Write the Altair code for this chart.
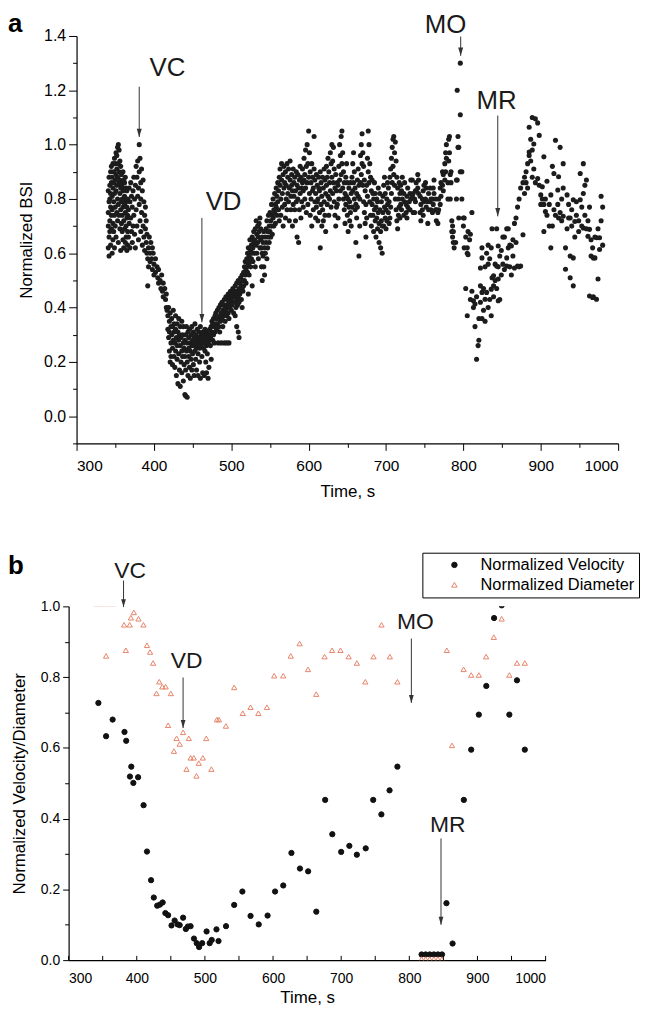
import altair as alt
import pandas as pd

FONT = "Liberation Sans"

# ---------------- Panel a: normalized BSI (time s, values at that time) ----------------
a_seg1 = [
    (341, [0.62, 0.75, 0.83, 0.70]), (342, [0.88, 0.66, 0.79, 0.59]), (343, [0.72, 0.85, 0.80, 0.68]),
    (344, [0.90, 0.77, 0.63, 0.82]), (345, [0.74, 0.86, 0.69, 0.92]), (346, [0.81, 0.60, 0.88, 0.76]),
    (347, [0.93, 0.71, 0.84, 0.65]), (348, [0.79, 0.90, 0.68, 0.86]), (349, [0.95, 0.74, 0.82, 0.62]),
    (350, [0.87, 0.77, 0.93, 0.70]), (351, [0.97, 0.83, 0.66, 0.89]), (352, [0.91, 0.75, 0.85, 0.96]),
    (353, [0.99, 0.80, 0.72, 0.88]), (354, [1.00, 0.93, 0.78, 0.64]), (355, [0.98, 0.86, 0.74, 0.90]),
    (356, [0.94, 0.82, 0.69, 0.87]), (357, [0.92, 0.76, 0.84, 0.61]), (358, [0.89, 0.79, 0.71, 0.85]),
    (359, [0.86, 0.68, 0.80, 0.74]), (360, [0.90, 0.77, 0.65, 0.83]), (361, [0.84, 0.72, 0.87, 0.62]),
    (362, [0.81, 0.69, 0.78, 0.86]), (363, [0.88, 0.75, 0.64, 0.80]), (364, [0.79, 0.70, 0.84, 0.66]),
    (365, [0.83, 0.73, 0.61, 0.77]), (366, [0.80, 0.68, 0.74, 0.63]),
]
a_seg2 = [
    (367, [0.76, 0.66]), (368, [0.84, 0.71]), (369, [0.79, 0.62]), (370, [0.73, 0.86]), (371, [0.68, 0.81]),
    (372, [0.77, 0.64]), (373, [0.70, 0.83]), (374, [0.88, 0.74]), (375, [0.80, 0.67]), (376, [0.85, 0.62]),
    (377, [0.92, 0.76]), (378, [0.88, 0.70]), (379, [0.94, 0.81]), (380, [0.84, 0.65]),
    (381, [1.00, 0.90, 0.78]), (382, [0.95, 0.72]), (383, [0.86, 0.80, 0.68]), (384, [0.91, 0.75]),
    (385, [0.83, 0.63]), (386, [0.87, 0.70]), (387, [0.79, 0.66]), (388, [0.74, 0.61]), (389, [0.69, 0.77]),
    (390, [0.64, 0.72]), (391, [0.60, 0.67]), (392, [0.58, 0.48]),
]
a_seg3 = [
    (393, [0.62, 0.55]), (394, [0.66]), (395, [0.60, 0.57]), (396, [0.64]), (397, [0.58]),
    (398, [0.62, 0.54]), (399, [0.60]), (400, [0.56, 0.52]), (402, [0.58, 0.53]), (404, [0.55]),
    (405, [0.51]), (406, [0.54, 0.49]), (408, [0.50]), (409, [0.47]), (410, [0.52]), (411, [0.46]),
    (412, [0.49, 0.44]), (414, [0.47]), (415, [0.43]), (416, [0.45, 0.40]), (417, [0.39]),
]
a_seg4 = [
    (418, [0.37, 0.32]), (419, [0.40, 0.29]), (420, [0.35, 0.24, 0.31]), (421, [0.38, 0.20]),
    (422, [0.33, 0.27, 0.22]), (423, [0.30, 0.36]), (424, [0.25, 0.19, 0.33]), (425, [0.28, 0.39]),
    (426, [0.22, 0.31, 0.34]), (427, [0.27, 0.18]), (428, [0.32, 0.24, 0.37]), (429, [0.29, 0.15]),
    (430, [0.26, 0.34, 0.21]), (431, [0.31, 0.12]), (432, [0.23, 0.28, 0.36]), (433, [0.17, 0.30]),
    (434, [0.26, 0.11, 0.33]), (435, [0.20, 0.29]), (436, [0.24, 0.35, 0.16]), (437, [0.30, 0.22]),
    (438, [0.27, 0.13, 0.33]), (439, [0.25, 0.19]), (440, [0.08, 0.28, 0.22]), (441, [0.30, 0.17, 0.075]),
    (442, [0.24, 0.33]), (443, [0.27, 0.20, 0.07]), (444, [0.31, 0.15]), (445, [0.25, 0.29, 0.22]),
    (446, [0.18, 0.32]), (447, [0.27, 0.14, 0.24]), (448, [0.30, 0.21]), (449, [0.26, 0.33, 0.17]),
    (450, [0.28, 0.23]), (451, [0.19, 0.31, 0.26]), (452, [0.29, 0.15]), (453, [0.24, 0.34, 0.27]),
    (454, [0.21, 0.30]), (455, [0.28, 0.17, 0.25]), (456, [0.32, 0.26]), (457, [0.23, 0.29, 0.15]),
    (458, [0.27, 0.31]), (459, [0.25, 0.20, 0.29]), (460, [0.28, 0.33, 0.14]), (461, [0.26, 0.30]),
    (462, [0.29, 0.22, 0.27]), (463, [0.31, 0.16]), (464, [0.28, 0.25, 0.30]), (465, [0.27, 0.15]),
    (466, [0.29, 0.32, 0.24]), (467, [0.30, 0.20]), (468, [0.28, 0.16, 0.26]), (469, [0.31, 0.23]),
    (470, [0.29, 0.14, 0.27]),
]
a_seg5 = [
    (471, [0.30, 0.18]), (472, [0.32, 0.28]), (473, [0.29, 0.26]), (474, [0.33, 0.21]), (475, [0.31, 0.35]),
    (476, [0.34, 0.28]), (477, [0.30, 0.36]), (478, [0.33, 0.27]), (479, [0.37, 0.31]), (480, [0.34, 0.38]),
    (481, [0.32, 0.36]), (482, [0.39, 0.34]), (483, [0.36, 0.27]), (484, [0.40, 0.33]), (485, [0.37, 0.31]),
    (486, [0.35, 0.41]), (487, [0.38, 0.27]), (488, [0.42, 0.36]), (489, [0.39, 0.33]), (490, [0.41, 0.37]),
    (491, [0.43, 0.38, 0.27]), (492, [0.40, 0.35]), (493, [0.44, 0.39]), (494, [0.41, 0.37, 0.27]),
    (495, [0.43, 0.40]), (496, [0.45, 0.38]), (497, [0.42, 0.36, 0.27]), (498, [0.44, 0.40]),
    (499, [0.41, 0.46]), (500, [0.43, 0.39]), (501, [0.45, 0.41]), (502, [0.42, 0.47]), (503, [0.44, 0.38]),
    (504, [0.46, 0.42]), (505, [0.48, 0.44, 0.37]), (506, [0.45, 0.40]), (507, [0.49, 0.43, 0.33]),
    (508, [0.46, 0.41]), (509, [0.50, 0.44, 0.31]), (510, [0.47, 0.42, 0.29]), (511, [0.49, 0.45]),
    (512, [0.51, 0.46]), (513, [0.48, 0.43]), (514, [0.52, 0.47, 0.40]), (515, [0.50, 0.46]),
]
a_seg6 = [
    (516, [0.53, 0.48]), (517, [0.55, 0.50]), (518, [0.52, 0.57]), (519, [0.54, 0.49]), (520, [0.58, 0.55]),
    (521, [0.60, 0.53]), (522, [0.56, 0.62, 0.45]), (523, [0.59, 0.52]), (524, [0.65, 0.57]), (525, [0.61, 0.55]),
    (526, [0.63, 0.58]), (527, [0.66, 0.60, 0.48]), (528, [0.62, 0.57]), (529, [0.68, 0.64]), (530, [0.65, 0.60]),
    (531, [0.69, 0.55]), (532, [0.72, 0.63]), (533, [0.67, 0.60]), (534, [0.70, 0.64]), (535, [0.66, 0.58]),
    (536, [0.71, 0.68]), (537, [0.73, 0.62]), (538, [0.69, 0.65]), (539, [0.62, 0.55]), (540, [0.66, 0.60, 0.50]),
    (541, [0.64, 0.59]), (542, [0.68, 0.55]), (543, [0.62, 0.52]), (544, [0.66, 0.60]), (545, [0.64, 0.69]),
    (546, [0.72, 0.58]), (547, [0.68, 0.62]), (548, [0.74, 0.66]), (549, [0.70, 0.64]), (550, [0.75, 0.68]),
    (551, [0.72, 0.66]), (552, [0.78, 0.70]), (553, [0.74, 0.67]), (554, [0.80, 0.73]), (555, [0.76, 0.70]),
    (556, [0.82, 0.75]), (557, [0.78, 0.71]), (558, [0.84, 0.77]), (559, [0.81, 0.74]), (560, [0.86, 0.79]),
]
a_seg7 = [
    (561, [0.83, 0.76]), (562, [0.88, 0.72]), (563, [0.85, 0.91]), (564, [0.80, 0.74]), (565, [0.87, 0.93]),
    (566, [0.82, 0.77]), (567, [0.89, 0.70]), (568, [0.84, 0.92]), (569, [0.78, 0.86]), (570, [0.90, 0.73]),
    (571, [0.85, 0.80]), (572, [0.93, 0.76]), (573, [0.88, 0.82]), (574, [0.79, 0.91]), (575, [0.84, 0.72]),
    (576, [0.87, 0.94]), (577, [0.81, 0.76]), (578, [0.89, 0.85]), (579, [0.83, 0.70]), (580, [0.91, 0.78]),
    (581, [0.86, 0.81]), (582, [0.76, 0.88]), (583, [0.83, 0.72]), (584, [0.90, 0.79]), (585, [0.85, 0.66]),
    (586, [0.80, 0.89]), (587, [0.64, 0.84]), (588, [0.87, 0.76]), (589, [0.82, 0.92]), (590, [0.88, 0.73]),
    (591, [0.84, 0.79]), (592, [0.91, 0.86]), (593, [0.77, 0.83]), (594, [0.95, 0.87]), (595, [0.89, 0.80]),
    (596, [0.98, 0.84]), (597, [0.92, 0.75]), (598, [1.00, 0.86]), (599, [0.93, 0.78]), (600, [1.05, 0.88]),
    (601, [0.97, 0.82]), (602, [0.90, 0.74]), (603, [0.86, 0.80]), (604, [0.93, 0.70]), (605, [0.88, 0.83]),
    (606, [0.84, 0.76]), (607, [1.03, 0.91]), (608, [0.87, 0.79]), (609, [0.82, 0.73]), (610, [0.89, 0.77]),
]
a_seg8 = [
    (611, [0.85, 0.79]), (612, [0.80, 0.72]), (613, [0.88, 0.84]), (614, [0.83, 0.75]), (615, [0.90, 0.62]),
    (616, [0.86, 0.78]), (617, [0.81, 0.70]), (618, [0.76, 0.88]), (619, [0.84, 0.72]), (620, [0.79, 0.91]),
    (621, [0.87, 0.74]), (622, [0.82, 0.68]), (623, [0.92, 0.85]), (624, [0.88, 0.78]), (625, [0.95, 0.81]),
    (626, [0.90, 0.74]), (627, [0.86, 0.80]), (628, [0.97, 0.83]), (629, [0.93, 0.77]), (630, [1.00, 0.88]),
    (631, [0.94, 0.82]), (632, [0.99, 0.86]), (633, [0.91, 0.79]), (634, [0.84, 0.74]), (635, [0.89, 0.70]),
    (636, [0.83, 0.77]), (637, [0.78, 0.86]), (638, [0.85, 0.73]), (639, [0.92, 0.80]), (640, [1.00, 0.87]),
    (641, [0.96, 0.83]), (642, [1.03, 0.89]), (643, [1.05, 0.93]), (644, [0.97, 0.84]), (645, [0.90, 0.80]),
    (646, [0.86, 0.76]), (647, [0.82, 0.71]), (648, [0.88, 0.78]), (649, [0.93, 0.81]), (650, [0.86, 0.74]),
    (651, [0.80, 0.68]), (652, [0.84, 0.77]), (653, [0.79, 0.72]), (654, [0.75, 0.86]), (655, [0.82, 0.70]),
    (656, [0.88, 0.77]), (657, [0.93, 0.83]), (658, [0.97, 0.86]), (659, [0.90, 0.80]), (660, [0.84, 0.76]),
    (661, [0.78, 0.64]), (662, [0.82, 0.73]), (663, [0.87, 0.77]), (664, [0.91, 0.81]), (665, [0.85, 0.59]),
    (666, [0.80, 0.70]), (667, [0.96, 0.86]), (668, [1.00, 0.89]), (669, [1.04, 0.93]), (670, [0.97, 0.85]),
    (671, [0.92, 0.79]), (672, [0.87, 0.75]), (673, [0.83, 0.71]), (674, [0.78, 0.66]), (675, [0.85, 0.73]),
    (676, [0.95, 0.81]), (677, [1.05, 0.90]), (678, [1.00, 0.86]), (679, [0.93, 0.79]), (680, [0.88, 0.74]),
]
a_seg9 = [
    (681, [0.83, 0.70]), (682, [0.78, 0.87]), (683, [0.74, 0.82]), (684, [0.80, 0.68]), (685, [0.86, 0.76]),
    (686, [0.82, 0.72]), (687, [0.77, 0.66]), (688, [0.73, 0.80]), (689, [0.79, 0.69]), (690, [0.84, 0.75]),
    (691, [0.71, 0.64]), (692, [0.76, 0.82]), (693, [0.68, 0.62]), (694, [0.72, 0.79]), (695, [0.60, 0.70]),
    (696, [0.75, 0.81]), (697, [0.70, 0.85]), (698, [0.77, 0.88]), (699, [0.82, 0.73]), (700, [0.76, 0.69]),
    (701, [0.80, 0.72]), (702, [0.86, 0.78]), (703, [0.75, 0.84]), (704, [0.79, 0.71]), (705, [0.73, 0.88]),
    (706, [0.91, 0.77]), (707, [0.95, 0.82]), (708, [0.99, 0.86]), (709, [1.02, 0.92]), (710, [1.03, 0.89]),
    (711, [0.97, 0.85]), (712, [1.01, 0.80]), (713, [0.94, 0.76]), (714, [0.88, 0.72]), (715, [0.84, 0.69]),
    (716, [0.80, 0.74]), (717, [0.86, 0.77]), (718, [0.82, 0.73]), (719, [0.78, 0.85]), (720, [0.83, 0.76]),
]
a_seg10 = [
    (721, [0.88, 0.80]), (723, [0.82, 0.74]), (724, [0.79, 0.86]), (726, [0.78, 0.75]),
    (727, [0.81, 0.73]), (728, [0.77, 0.84]), (730, [0.79, 0.76]), (731, [0.76, 0.82]),
    (732, [0.80, 0.87]), (734, [0.87, 0.81]), (735, [0.82, 0.75]), (737, [0.75, 0.80]),
    (738, [0.79, 0.83]), (739, [0.83, 0.86]), (741, [0.84, 0.89]), (742, [0.87, 0.82]),
    (744, [0.81, 0.75]), (745, [0.78, 0.72]), (747, [0.80, 0.76]), (748, [0.83, 0.74]),
    (749, [0.79, 0.85]), (751, [0.86, 0.80]), (752, [0.84, 0.77]), (754, [0.79, 0.71]),
    (755, [0.76, 0.82]), (757, [0.84, 0.79]), (758, [0.80, 0.76]), (760, [0.75, 0.80]),
    (761, [0.78, 0.84]), (762, [0.82, 0.87]), (764, [0.80, 0.76]), (765, [0.76, 0.72]),
    (767, [0.71, 0.75]), (768, [0.76, 0.80]), (770, [0.84, 0.78]), (771, [0.86, 0.81]),
    (773, [0.85, 0.90]), (774, [0.89, 0.83]), (776, [0.93, 0.87]), (777, [0.97, 0.90]),
    (778, [0.95, 1.00]), (780, [0.86, 0.80]),
]
a_seg11 = [
    (781, [0.94, 1.02]), (782, [1.03, 0.97]), (783, [0.89, 0.80]), (784, [0.90, 0.86]), (785, [0.72, 0.68]),
    (786, [0.70, 0.66]), (787, [0.64, 0.68]), (788, [0.62]), (790, [0.64]), (791, [0.80, 0.87]),
    (792, [0.87, 1.20]), (793, [1.03, 0.99]), (794, [0.99, 0.73]), (796, [1.30, 1.11, 0.90]),
    (798, [0.90, 0.80]), (800, [0.70, 0.73]), (801, [0.62, 0.73]), (803, [0.66, 0.47]),
    (805, [0.62, 0.60, 0.37]), (806, [0.595, 0.68]), (808, [0.65]), (809, [0.67, 0.43]), (811, [0.75, 0.46]),
    (813, [0.425, 0.40]), (815, [0.413, 0.33]), (817, [0.21, 0.44]), (819, [0.26]), (820, [0.28, 0.36]),
    (822, [0.546, 0.48, 0.42]), (824, [0.62, 0.583, 0.456, 0.36]), (826, [0.39, 0.47]),
    (828, [0.431, 0.35, 0.55]), (830, [0.456, 0.60]), (832, [0.63, 0.56, 0.40]), (834, [0.43, 0.58]),
    (836, [0.468, 0.37, 0.62]), (837, [0.69, 0.51]), (839, [0.517, 0.48, 0.44]), (841, [0.56, 0.50]),
    (843, [0.69, 0.553, 0.47]), (845, [0.627, 0.505, 0.425, 0.55]), (847, [0.59, 0.43]), (849, [0.61, 0.52]),
    (851, [0.66, 0.56]), (853, [0.66, 0.54]), (856, [0.69, 0.553, 0.583]), (858, [0.69, 0.62]),
    (860, [0.63, 0.55]), (862, [0.627, 0.52]), (864, [0.65, 0.59]), (866, [0.546, 0.71]), (868, [0.73, 0.64]),
    (870, [0.553, 0.77]), (872, [0.80, 0.55]), (874, [0.553, 0.84]), (877, [0.668, 0.86]), (879, [0.82, 0.88]),
]
a_seg12 = [
    (881, [0.86, 0.90]), (883, [0.93, 0.84]), (885, [1.064, 0.973, 0.96]), (887, [1.02, 0.94]),
    (889, [1.10, 0.98, 0.88]), (891, [1.002, 0.91]), (893, [1.095, 0.86]), (896, [1.08, 0.875]),
    (898, [1.034, 0.85]), (900, [0.815, 0.78]), (902, [0.845, 0.80]), (904, [0.955, 0.68, 0.78]),
    (906, [0.754, 0.80]), (908, [0.865, 0.74]), (911, [0.78, 0.70]), (913, [0.62, 0.815]), (915, [0.92, 0.70]),
    (917, [0.894, 0.76]), (919, [1.016, 0.74]), (922, [0.833, 0.78]), (923, [0.882, 0.73]), (925, [0.99, 0.75]),
    (927, [0.72, 0.80]), (929, [0.93, 0.84, 0.736]), (932, [0.62, 0.541]), (934, [0.815, 0.69]),
    (936, [0.78, 0.73]), (938, [0.73, 0.59, 0.51]), (940, [0.76, 0.70]), (942, [0.797, 0.583, 0.48]),
    (944, [0.717, 0.66]), (946, [0.74, 0.79]), (949, [0.68, 0.72]), (951, [0.797, 0.894]), (953, [0.77, 0.70]),
    (955, [0.93, 0.82, 0.693]), (957, [0.74, 0.85]), (959, [0.87, 0.69]), (961, [0.663, 0.72]),
    (963, [0.77, 0.688, 0.443]), (965, [0.59, 0.65]), (967, [0.437, 0.62]), (968, [0.583, 0.44]),
    (970, [0.583, 0.66]), (972, [0.657, 0.431]), (974, [0.505, 0.69]), (976, [0.657, 0.614]),
    (978, [0.81, 0.72]), (980, [0.77, 0.63]),
]

# panel a annotations
a_ann_text = ["VC", "VD", "MO", "MR"]
a_ann_text_t = [417.5, 490, 777, 843]
a_ann_text_v = [1.254, 0.76, 1.41, 1.133]
a_arrow_t = [381, 462, 796.5, 844.4]
a_arrow_from = [1.213, 0.73, 1.398, 1.107]
a_arrow_to = [1.028, 0.346, 1.327, 0.736]

# ---------------- Panel b ----------------
vel_t = [343.7, 355, 364.6, 382, 384.5, 390, 392, 395, 402, 410, 415, 421, 425, 430, 434, 438, 442, 446,
         451, 455.6, 460, 463, 468, 472, 475, 479, 484, 488, 491.5, 496, 502.5, 507, 510, 517, 520, 531,
         543, 555, 567, 579, 592, 603, 615, 627, 639.5, 651.5, 663.5, 676.5, 687, 700, 712, 723, 736,
         747, 759, 771, 782.5, 818, 824, 830, 836, 842, 848, 854.5, 863.5, 880, 890.8, 902, 913, 924.4,
         935.6, 946.8, 958, 969.5]
vel_v = [0.727, 0.633, 0.680, 0.645, 0.620, 0.519, 0.547, 0.501, 0.517, 0.438, 0.307, 0.226, 0.177, 0.154,
         0.157, 0.163, 0.133, 0.127, 0.098, 0.112, 0.101, 0.099, 0.120, 0.088, 0.095, 0.096, 0.061, 0.048,
         0.037, 0.048, 0.081, 0.048, 0.057, 0.087, 0.054, 0.096, 0.156, 0.194, 0.125, 0.101, 0.126, 0.194,
         0.211, 0.303, 0.259, 0.251, 0.137, 0.453, 0.356, 0.306, 0.323, 0.298, 0.316, 0.453, 0.412, 0.480,
         0.547, 0.016, 0.016, 0.016, 0.016, 0.016, 0.016, 0.161, 0.047, 0.453, 0.595, 0.694, 0.775, 0.967,
         1.003, 0.694, 0.791, 0.595]

dia_t = [341, 349, 357, 365, 355, 384, 395.7, 391.4, 402.5, 381.4, 389.6, 409.8, 415, 419.5, 424, 433,
         437.5, 442.4, 429, 450, 446, 468, 458.4, 476.4, 463, 454.5, 502, 479, 483.7, 497, 491, 473, 509.5,
         487.6, 517.6, 520.6, 530.8, 543, 555.6, 567, 578.4, 591, 601.7, 614.9, 626, 639, 651.3, 663.4,
         675.6, 686.7, 699, 711, 723, 735.4, 747.5, 759.2, 771.4, 782.5, 818, 824, 830, 836, 842, 848,
         855, 862.7, 879.7, 890.8, 902, 912.7, 924, 935.6, 946.8, 958, 969.5]
dia_v = [1.008, 1.008, 1.008, 1.008, 0.860, 0.876, 0.983, 0.968, 0.965, 0.948, 0.948, 0.948, 0.890,
         0.871, 0.840, 0.787, 0.773, 0.773, 0.754, 0.754, 0.664, 0.644, 0.627, 0.627, 0.611, 0.591, 0.627,
         0.572, 0.572, 0.572, 0.557, 0.540, 0.540, 0.521, 0.680, 0.680, 0.662, 0.771, 0.698, 0.715, 0.698,
         0.715, 0.804, 0.804, 0.860, 0.895, 0.822, 0.752, 0.858, 0.876, 0.876, 0.858, 0.840, 0.787, 0.858,
         0.948, 0.858, 0.787, 0.003, 0.003, 0.003, 0.003, 0.003, 0.003, 0.876, 0.607, 0.822, 0.806, 0.806,
         0.858, 0.913, 0.965, 0.806, 0.840, 0.840]

b_ann_text = ["VC", "VD", "MO", "MR"]
b_ann_text_t = [390.4, 473, 809, 856.5]
b_ann_text_v = [1.081, 0.825, 0.935, 0.361]
b_arrow_t = [380.6, 468, 803, 846.5]
b_arrow_from = [1.073, 0.799, 0.909, 0.344]
b_arrow_to = [0.998, 0.656, 0.727, 0.10]

series_names = ["Normalized Velocity", "Normalized Diameter"]
series_colors = ["#111111", "#E8846A"]
series_fills = ["#111111", "transparent"]

x_ticks = [300, 350, 400, 450, 500, 550, 600, 650, 700, 750, 800, 850, 900, 950, 1000]
x_labels_b = [300, 400, 500, 600, 700, 800, 900, 1000]
a_y_ticks = [-0.1, 0.0, 0.1, 0.2, 0.3, 0.4, 0.5, 0.6, 0.7, 0.8, 0.9, 1.0, 1.1, 1.2, 1.3, 1.4]
b_y_ticks = [0.0, 0.1, 0.2, 0.3, 0.4, 0.5, 0.6, 0.7, 0.8, 0.9, 1.0]

# ---------------- tables ----------------
a_rows = [(t, v) for seg in (a_seg1, a_seg2, a_seg3, a_seg4, a_seg5, a_seg6, a_seg7, a_seg8,
                             a_seg9, a_seg10, a_seg11, a_seg12) for t, vs in seg for v in vs]
df_a = pd.DataFrame(a_rows, columns=["t", "v"])
df_a_txt = pd.DataFrame({"t": a_ann_text_t, "v": a_ann_text_v, "label": a_ann_text})
df_a_arr = pd.DataFrame({"t": a_arrow_t, "v": a_arrow_from, "v2": a_arrow_to})
df_a_head = pd.DataFrame({"t": a_arrow_t, "v": a_arrow_to})

df_b = pd.concat([
    pd.DataFrame({"t": vel_t, "v": vel_v, "series": series_names[0]}),
    pd.DataFrame({"t": dia_t, "v": dia_v, "series": series_names[1]}),
])
df_b_txt = pd.DataFrame({"t": b_ann_text_t, "v": b_ann_text_v, "label": b_ann_text})
df_b_arr = pd.DataFrame({"t": b_arrow_t, "v": b_arrow_from, "v2": b_arrow_to})
df_b_head = pd.DataFrame({"t": b_arrow_t, "v": b_arrow_to})
df_b_ticks = pd.DataFrame({"t": x_ticks, "v": [0.0] * len(x_ticks), "v2": [0.012] * len(x_ticks)})
one = pd.DataFrame({"k": [0]})

ARROW = "M-0.6,-2L0.6,-2L0,0Z"
INK = "#1a1a1a"

# ---------------- panel a ----------------
WA, HA = 545, 410
xa = alt.X("t:Q", title="Time, s",
           scale=alt.Scale(domain=[300, 1000], nice=False, zero=False),
           axis=alt.Axis(values=x_ticks, format="d",
                         labelExpr="datum.value % 100 == 0 ? datum.label : ''",
                         tickSize={"condition": {"test": "datum.value % 100 == 0", "value": 7}, "value": 4},
                         labelFontSize=15.5, titleFontSize=17, labelPadding=8, titlePadding=10))
ya = alt.Y("v:Q", title="Normalized BSI",
           scale=alt.Scale(domain=[-0.1, 1.4], nice=False, zero=False),
           axis=alt.Axis(values=a_y_ticks,
                         labelExpr="abs(round(datum.value*10) % 2) == 0 ? format(datum.value, '.1f') : ''",
                         tickSize={"condition": {"test": "abs(round(datum.value*10) % 2) == 0", "value": 8}, "value": 4},
                         labelFontSize=16, titleFontSize=17, labelPadding=3, titlePadding=8))

a_pts = alt.Chart(df_a).mark_circle(size=26, color="#1c1c1c", opacity=1).encode(x=xa, y=ya)
a_shaft = alt.Chart(df_a_arr).mark_rule(color="#333333", strokeWidth=1).encode(x=xa, y=ya, y2="v2:Q")
a_head = alt.Chart(df_a_head).mark_point(shape=ARROW, size=70, filled=True, color="#333333",
                                         opacity=1).encode(x=xa, y=ya)
a_txt = alt.Chart(df_a_txt).mark_text(font=FONT, fontSize=26, color=INK, align="center",
                                      baseline="alphabetic").encode(x=xa, y=ya, text="label:N")
a_tag = alt.Chart(one).mark_text(text="a", font=FONT, fontSize=26, fontWeight="bold", color="#000",
                                 align="left", baseline="alphabetic").encode(
    x=alt.value(-69), y=alt.value(-4))

panel_a = alt.layer(a_pts, a_shaft, a_head, a_txt, a_tag).properties(width=WA, height=HA)

# ---------------- panel b ----------------
WB, HB = 472, 356
xb = alt.X("t:Q", title="Time, s",
           scale=alt.Scale(domain=[300, 1000], nice=False, zero=False, range=[-8, WB]),
           axis=alt.Axis(values=x_labels_b, format="d", ticks=False,
                         labelFontSize=14, titleFontSize=17, labelPadding=12, titlePadding=4))
yb = alt.Y("v:Q", title="Normalized Velocity/Diameter",
           scale=alt.Scale(domain=[0, 1.0], nice=False, zero=False),
           axis=alt.Axis(values=b_y_ticks, offset=8,
                         labelExpr="abs(round(datum.value*10) % 2) == 0 ? format(datum.value, '.1f') : ''",
                         tickSize={"condition": {"test": "abs(round(datum.value*10) % 2) == 0", "value": 6}, "value": 4},
                         labelFontSize=14, titleFontSize=17, labelPadding=3, titlePadding=12))

leg = alt.Legend(title=None, orient="none", legendX=348, legendY=-54, strokeColor="#000",
                 fillColor="white", padding=4, symbolOffset=20, labelOffset=18, labelFontSize=16.5,
                 labelFont=FONT, labelColor="#000", rowPadding=3, symbolSize=30, symbolStrokeWidth=1,
                 labelLimit=300)
b_pts = alt.Chart(df_b).mark_point(size=28, strokeWidth=1, opacity=1, clip=True).encode(
    x=xb, y=yb,
    color=alt.Color("series:N", scale=alt.Scale(domain=series_names, range=series_colors), legend=leg),
    fill=alt.Fill("series:N", scale=alt.Scale(domain=series_names, range=series_fills), legend=leg),
    shape=alt.Shape("series:N", scale=alt.Scale(domain=series_names, range=["circle", "triangle-up"]),
                    legend=leg),
)
b_ticks = alt.Chart(df_b_ticks).mark_rule(color="#000", strokeWidth=1).encode(x=xb, y=yb, y2="v2:Q")
b_shaft = alt.Chart(df_b_arr).mark_rule(color="#333333", strokeWidth=1).encode(x=xb, y=yb, y2="v2:Q")
b_head = alt.Chart(df_b_head).mark_point(shape=ARROW, size=64, filled=True, color="#333333",
                                         opacity=1).encode(x=xb, y=yb)
b_txt = alt.Chart(df_b_txt).mark_text(font=FONT, fontSize=23, color=INK, align="center",
                                      baseline="alphabetic").encode(x=xb, y=yb, text="label:N")
b_tag = alt.Chart(one).mark_text(text="b", font=FONT, fontSize=26, fontWeight="bold", color="#000",
                                 align="left", baseline="alphabetic").encode(
    x=alt.value(-69), y=alt.value(-33))

panel_b = alt.layer(b_pts, b_ticks, b_shaft, b_head, b_txt, b_tag).properties(width=WB, height=HB)

chart = alt.vconcat(panel_a, panel_b, spacing=52).resolve_legend(
    color="independent", fill="independent", shape="independent"
).properties(
    padding={"left": 0, "top": 0, "right": 0, "bottom": -2}, background="white"
).configure_view(stroke=None).configure_axis(
    grid=False, domainColor="#000", tickColor="#000", domainWidth=1.2, tickWidth=1,
    labelColor="#000", titleColor="#000", labelFont=FONT, titleFont=FONT, titleFontWeight="normal",
)

chart.save("out.html", embed_options={"renderer": "svg", "actions": False})
